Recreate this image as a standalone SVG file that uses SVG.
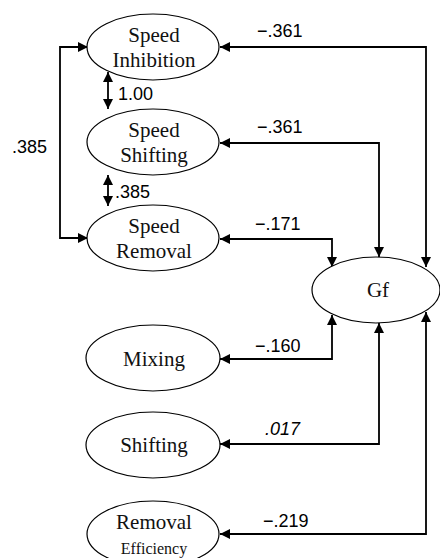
<svg xmlns="http://www.w3.org/2000/svg" width="440" height="558" viewBox="0 0 440 558">
<defs>
<marker id="ah" viewBox="0 0 10 10" refX="10" refY="5" markerWidth="10" markerHeight="10" markerUnits="userSpaceOnUse" orient="auto-start-reverse">
<path d="M0,0 L10,5 L0,10 Z" fill="#000"/>
</marker>
<style>
.n ellipse{fill:#fff;stroke:#000;stroke-width:1.2}
.n text{font-family:"Liberation Serif","Times New Roman",serif;font-size:21px;fill:#111;text-anchor:middle}
.c path{fill:none;stroke:#000;stroke-width:1.8}
.lb{font-family:"Liberation Sans",Arial,sans-serif;font-size:18px;fill:#000}
</style>
</defs>
<rect width="440" height="558" fill="#fff"/>
<g id="connectors" class="c">
<path d="M88,47 H60 V238 H88" marker-start="url(#ah)" marker-end="url(#ah)"/>
<path d="M108,72 V109" marker-start="url(#ah)" marker-end="url(#ah)"/>
<path d="M108,175 V206" marker-start="url(#ah)" marker-end="url(#ah)"/>
<path d="M220,47 H426 V267" marker-start="url(#ah)" marker-end="url(#ah)"/>
<path d="M220,143 H379 V257" marker-start="url(#ah)" marker-end="url(#ah)"/>
<path d="M220,239 H332 V267" marker-start="url(#ah)" marker-end="url(#ah)"/>
<path d="M220,359 H332 V315" marker-start="url(#ah)" marker-end="url(#ah)"/>
<path d="M220,444 H379 V323" marker-start="url(#ah)" marker-end="url(#ah)"/>
<path d="M220,534 H426 V312" marker-start="url(#ah)" marker-end="url(#ah)"/>
</g>
<g id="labels">
<text class="lb" x="12" y="153">.385</text>
<text class="lb" x="118" y="100">1.00</text>
<text class="lb" x="115" y="198">.385</text>
<text class="lb" x="257" y="37">−.361</text>
<text class="lb" x="257" y="133">−.361</text>
<text class="lb" x="255" y="230">−.171</text>
<text class="lb" x="255" y="352">−.160</text>
<text class="lb" x="265" y="435" font-style="italic">.017</text>
<text class="lb" x="263" y="527">−.219</text>
</g>
<g id="speed-inhibition" class="n">
<ellipse cx="153" cy="47" rx="66" ry="33"/>
<text x="154" y="42">Speed</text>
<text x="154" y="67">Inhibition</text>
</g>
<g id="speed-shifting" class="n">
<ellipse cx="153" cy="142" rx="66" ry="33"/>
<text x="154" y="137">Speed</text>
<text x="154" y="162">Shifting</text>
</g>
<g id="speed-removal" class="n">
<ellipse cx="153" cy="238" rx="66" ry="33"/>
<text x="154" y="233">Speed</text>
<text x="154" y="258">Removal</text>
</g>
<g id="gf" class="n">
<ellipse cx="376" cy="290" rx="64" ry="33"/>
<text x="378" y="297">Gf</text>
</g>
<g id="mixing" class="n">
<ellipse cx="153" cy="358" rx="67" ry="33"/>
<text x="154" y="366">Mixing</text>
</g>
<g id="shifting" class="n">
<ellipse cx="153" cy="445" rx="67" ry="33"/>
<text x="154" y="452">Shifting</text>
</g>
<g id="removal-efficiency" class="n">
<ellipse cx="153" cy="534" rx="66" ry="33"/>
<text x="154" y="529">Removal</text>
<text x="154" y="554" style="font-size:16px">Efficiency</text>
</g>
</svg>
